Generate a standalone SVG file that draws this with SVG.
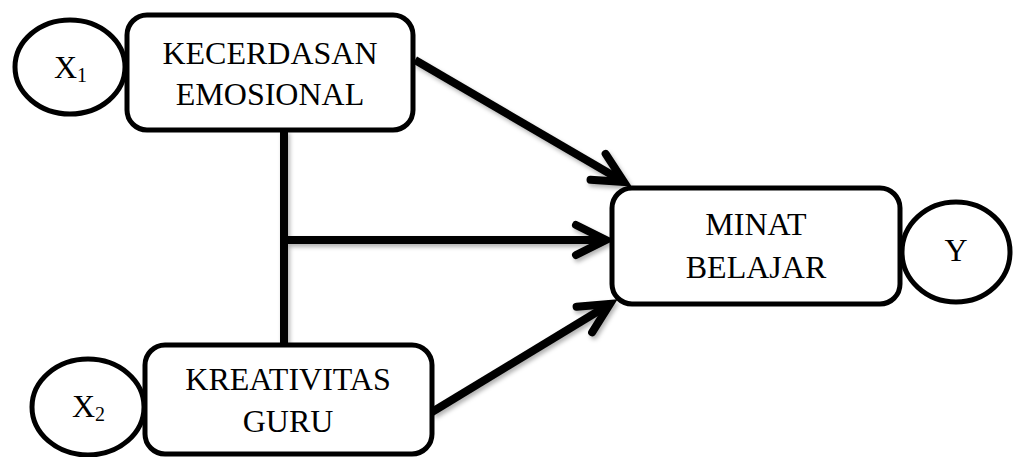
<svg xmlns="http://www.w3.org/2000/svg" width="1015" height="457" viewBox="0 0 1015 457">
<style>
.box{fill:#fff;stroke:#000;stroke-width:5}
.circ{fill:#fff;stroke:#000;stroke-width:5}
.lbl{font-family:"Liberation Serif","Times New Roman",serif;font-size:32px;fill:#000;text-anchor:middle}
.var{font-family:"Liberation Serif","Times New Roman",serif;font-size:32px;fill:#000}
.sub{font-size:20px}
.con{fill:none;stroke:#000;stroke-width:8}
</style>
<defs>
<filter id="sh" filterUnits="userSpaceOnUse" x="0" y="0" width="1015" height="457">
<feDropShadow dx="2" dy="3" stdDeviation="2" flood-color="#000" flood-opacity="0.3"/>
</filter>
<marker id="ah" markerUnits="userSpaceOnUse" viewBox="-45 -25 55 50" markerWidth="55" markerHeight="50" refX="0" refY="0" orient="auto">
<path d="M-30,-15 L0,0 L-30,15" fill="none" stroke="#000" stroke-width="8" stroke-linecap="round" stroke-linejoin="miter"/>
</marker>
</defs>
<g id="connectors" filter="url(#sh)">
<line class="con" x1="284" y1="130" x2="284" y2="345"/>
<line class="con" x1="284" y1="240" x2="606" y2="240" marker-end="url(#ah)"/>
<line class="con" x1="415" y1="60" x2="624" y2="182" marker-end="url(#ah)"/>
<line class="con" x1="432" y1="412" x2="610" y2="304" marker-end="url(#ah)"/>
</g>
<g id="x1">
<ellipse class="circ" cx="70" cy="67" rx="55" ry="47"/>
<text class="var" x="54" y="78">X<tspan class="sub" dy="4">1</tspan></text>
</g>
<g id="kecerdasan">
<rect class="box" x="127" y="15" width="286" height="115" rx="20"/>
<text class="lbl" x="270" y="64">KECERDASAN</text>
<text class="lbl" x="270" y="105">EMOSIONAL</text>
</g>
<g id="x2">
<ellipse class="circ" cx="88" cy="407" rx="56" ry="48"/>
<text class="var" x="72" y="417">X<tspan class="sub" dy="4">2</tspan></text>
</g>
<g id="kreativitas">
<rect class="box" x="145" y="345" width="287" height="109" rx="20"/>
<text class="lbl" x="288" y="390">KREATIVITAS</text>
<text class="lbl" x="288" y="432">GURU</text>
</g>
<g id="minat">
<rect class="box" x="612" y="188" width="288" height="116" rx="20"/>
<text class="lbl" x="756" y="235">MINAT</text>
<text class="lbl" x="756" y="278">BELAJAR</text>
</g>
<g id="y">
<ellipse class="circ" cx="956" cy="252" rx="54" ry="50"/>
<text class="lbl" x="956" y="261">Y</text>
</g>
</svg>
